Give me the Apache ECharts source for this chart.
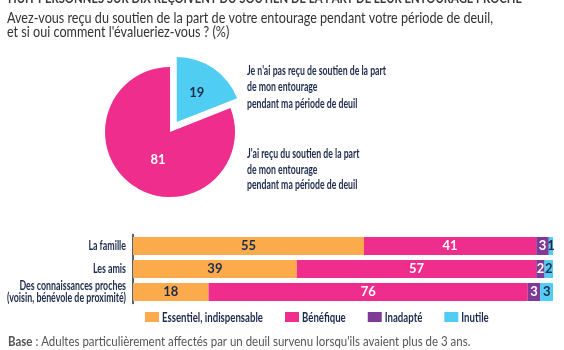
<!DOCTYPE html>
<html>
<head>
<meta charset="utf-8">
<script src="https://cdn.jsdelivr.net/npm/echarts@6/dist/echarts.min.js"></script>
<style>
  html, body { margin: 0; padding: 0; background: #fff; }
  #chart { width: 564px; height: 350px; }
</style>
</head>
<body>
<div id="chart"></div>
<script>
const FONT = "Lato, 'Open Sans', sans-serif";
const NAVY = "#1d2a4d";

// pie: support received or not
const pieNames = [
  "Je n'ai pas reçu de soutien de la part\nde mon entourage\npendant ma période de deuil",
  "J'ai reçu du soutien de la part\nde mon entourage\npendant ma période de deuil",
];
const pieValues = [19, 81];

// bars: how the support was rated
const categories = [
  "La famille",
  "Les amis",
  "Des connaissances proches\n(voisin, bénévole de proximité)",
];
const seriesNames = ["Essentiel, indispensable", "Bénéfique", "Inadapté", "Inutile"];
const essentiel = [55, 39, 18];
const benefique = [41, 57, 76];
const inadapte = [3, 2, 3];
const inutile = [1, 2, 3];

const colors = ["#fbab4c", "#ee2d8c", "#7f3a97", "#4fcdf2"];
const labelColors = [NAVY, "#fff", "#fff", NAVY];
const barData = [essentiel, benefique, inadapte, inutile];

// the original uses a very condensed face, so texts are squeezed to the widths in the picture
const measureCtx = document.createElement("canvas").getContext("2d");
function textWidth(text, size, weight) {
  measureCtx.font = `${weight || "normal"} ${size}px ${FONT}`;
  return Math.max(...text.split("\n").map((l) => measureCtx.measureText(l).width));
}
function squeeze(text, size, weight, target) {
  return target / textWidth(text, size, weight);
}

function narrowText(x, y, text, size, weight, sx, extra) {
  return {
    type: "text",
    x,
    y,
    scaleX: sx,
    silent: true,
    style: Object.assign(
      { text, x: 0, y: 0, fontFamily: FONT, fontSize: size, fontWeight: weight, fill: NAVY, verticalAlign: "middle" },
      extra || {},
    ),
  };
}

const chart = echarts.init(document.getElementById("chart"));

chart.setOption({
  animation: false,
  color: colors,
  grid: { left: 133, right: 11, top: 234.5, bottom: 46.5 },
  xAxis: { type: "value", min: 0, max: 100, show: false },
  yAxis: {
    type: "category",
    inverse: true,
    data: categories,
    axisLine: { lineStyle: { color: NAVY, width: 1.5 } },
    axisTick: { show: false },
    axisLabel: { show: false },
  },
  series: [
    {
      type: "pie",
      center: [170, 132],
      radius: [0, 65],
      startAngle: 90,
      clockwise: true,
      selectedMode: "single",
      selectedOffset: 12,
      silent: true,
      label: {
        position: "inside",
        fontFamily: FONT,
        fontSize: 13,
        fontWeight: "bold",
      },
      labelLine: { show: false },
      data: pieValues.map((v, i) => ({
        name: pieNames[i],
        value: v,
        selected: i === 0,
        itemStyle: { color: i === 0 ? colors[3] : colors[1] },
        label: {
          formatter: String(v),
          color: i === 0 ? NAVY : "#fff",
          offset: i === 0 ? [0, -5] : [8, -2],
        },
      })),
    },
    ...seriesNames.map((name, i) => ({
      name,
      type: "bar",
      stack: "total",
      barWidth: 18,
      data: barData[i],
      itemStyle: { color: colors[i] },
      label: {
        show: true,
        position: "inside",
        fontFamily: FONT,
        fontSize: 13,
        fontWeight: "bold",
        color: labelColors[i],
      },
    })),
  ],
});

// texts, category labels and legend
const graphics = [];

const header = "HUIT PERSONNES SUR DIX REÇOIVENT DU SOUTIEN DE LA PART DE LEUR ENTOURAGE PROCHE";
graphics.push(narrowText(8, -1, header, 13, "bold", squeeze(header, 13, "bold", 514), { fill: "#3a3a3a" }));

const titleLines = [
  "Avez-vous reçu du soutien de la part de votre entourage pendant votre période de deuil,",
  "et si oui comment l'évalueriez-vous ? (%)",
];
const titleScale = squeeze(titleLines[0], 15, "normal", 486);
graphics.push(narrowText(7, 18, titleLines[0], 15, "normal", titleScale, { fill: "#333" }));
graphics.push(narrowText(7, 32.5, titleLines[1], 15, "normal", titleScale, { fill: "#333" }));

const pieScale = squeeze(pieNames[0].split("\n")[0], 13, "bold", 139);
graphics.push(narrowText(247, 87, pieNames[0], 13, "bold", pieScale, { lineHeight: 16.5 }));
graphics.push(narrowText(247, 169.5, pieNames[1], 13, "bold", pieScale, { lineHeight: 15.5 }));

const catScale = squeeze("(voisin, bénévole de proximité)", 12.5, "bold", 119);
categories.forEach((c) => {
  const y = chart.convertToPixel({ yAxisIndex: 0 }, c);
  graphics.push(narrowText(126, y, c, 12.5, "bold", catScale, { align: "right", lineHeight: 11.5 }));
});

// legend rows
const legScale = squeeze(seriesNames[0], 14, "bold", 101);
let lx = 145;
seriesNames.forEach((name, i) => {
  graphics.push({ type: "rect", silent: true, shape: { x: lx, y: 312, width: 14, height: 10 }, style: { fill: colors[i] } });
  graphics.push(narrowText(lx + 17, 317, name, 14, "bold", legScale));
  lx += 17 + textWidth(name, 14, "bold") * legScale + 22;
});

const foot = "{b|Base} : Adultes particulièrement affectés par un deuil survenu lorsqu'ils avaient plus de 3 ans.";
const footScale = squeeze("Base : Adultes particulièrement affectés par un deuil survenu lorsqu'ils avaient plus de 3 ans.", 13, "normal", 462);
graphics.push(narrowText(8, 342, foot, 13, "normal", footScale, {
  fill: "#555",
  rich: { b: { fontFamily: FONT, fontSize: 13, fontWeight: "bold", fill: "#555" } },
}));

chart.setOption({ graphic: graphics });
</script>
</body>
</html>
